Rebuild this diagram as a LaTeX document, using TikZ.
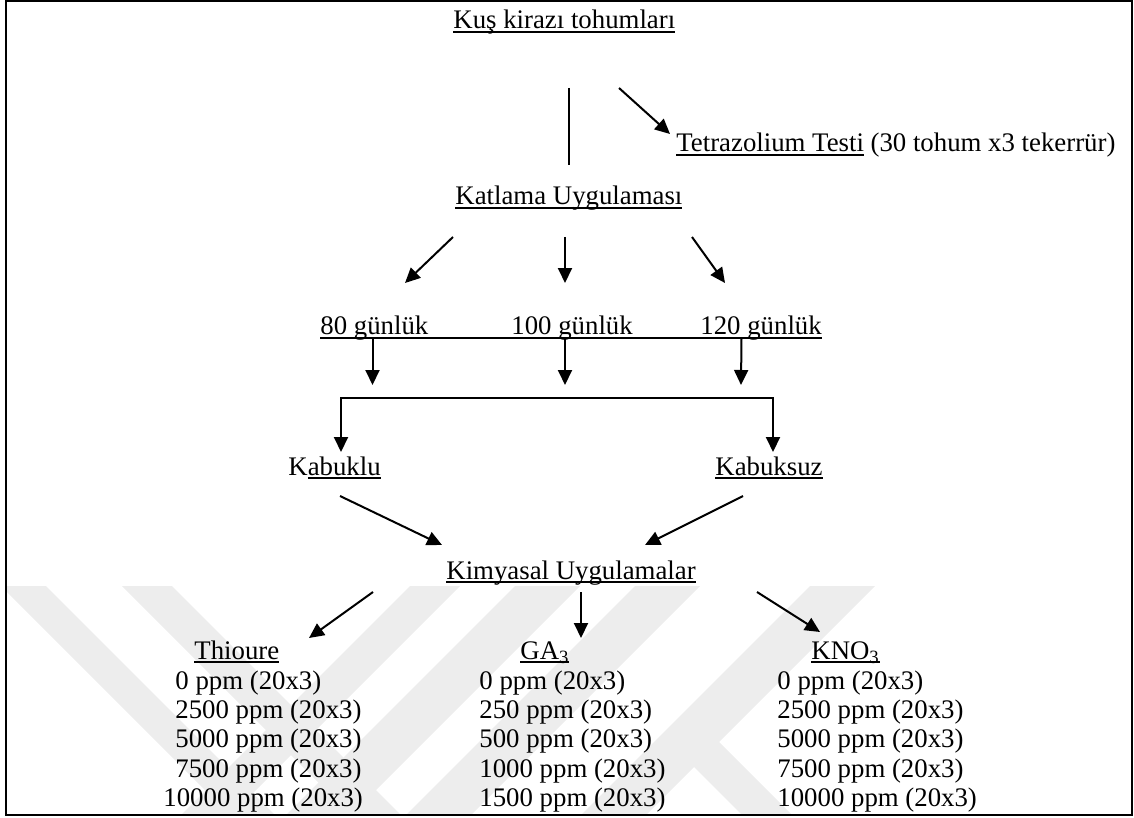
\documentclass[tikz,border=0pt]{standalone}
\usepackage{fontspec}
\setmainfont{Liberation Serif}
\usetikzlibrary{arrows.meta,calc}

\newsavebox{\ulbox}
\newcommand{\ulin}[1]{\sbox{\ulbox}{#1}\rlap{\rule[-1.8pt]{\wd\ulbox}{0.9pt}}\usebox{\ulbox}}

\tikzset{
  lbl/.style={inner sep=0pt, anchor=base west, font=\fontsize{13.4}{15}\selectfont},
  lnk/.style={line width=1pt},
  arr/.style={lnk, -{Triangle[length=7.5pt,width=7pt]}},
  wm/.style={fill=black!7},
}

\begin{document}
\begin{tikzpicture}[x=0.5pt,y=-0.5pt]
        \useasboundingbox (0,0) rectangle (1134,818);

        % watermark
        \begin{scope}
          \clip (6,586) rectangle (1132,815);
          \fill[wm] (1,586) -- (46,586) -- (275,815) -- (230,815) -- cycle;
          \fill[wm] (122,586) -- (172,586) -- (401,815) -- (351,815) -- cycle;
          \fill[wm] (410,586) -- (460,586) -- (231,815) -- (181,815) -- cycle;
          \fill[wm] (515,586) -- (580,586) -- (351,815) -- (286,815) -- cycle;
          \fill[wm] (635,586) -- (700,586) -- (471,815) -- (406,815) -- cycle;
          \fill[wm] (810,586) -- (875,586) -- (646,815) -- (581,815) -- cycle;
          \fill[wm] (662,735) -- (712,735) -- (792,815) -- (742,815) -- cycle;
        \end{scope}

        \draw[line width=1.25pt] (6,1) rectangle (1132,815);

        \node[lbl] (kus) at (453,29) {\ulin{Kuş kirazı tohumları}};
        \node[lbl] (tetra) at (676,152) {\ulin{Tetrazolium Testi} (30 tohum x3 tekerrür)};
        \node[lbl] (katlama) at (455,205) {\ulin{Katlama Uygulaması}};

        \node[lbl] (g80) at (320,334) {80 günlük};
        \node[lbl] (g100) at (511,334) {100 günlük};
        \node[lbl] (g120) at (700,334) {120 günlük};

        \node[lbl] (kabuklu) at (288,475) {K\ulin{abuklu}};
        \node[lbl] (kabuksuz) at (715,475) {\ulin{Kabuksuz}};
        \node[lbl] (kimya) at (446,579) {\ulin{Kimyasal Uygulamalar}};

        \node[lbl] (thiou) at (194,659) {\ulin{Thioure}};
        \node[lbl] (ga) at (520,659) {\ulin{GA\textsubscript{3}}};
        \node[lbl] (kno) at (811,659) {\ulin{KNO\textsubscript{3}}};

        \node[lbl] (t1) at (175,689) {0 ppm (20x3)};
        \node[lbl] (t2) at (175,718) {2500 ppm (20x3)};
        \node[lbl] (t3) at (175,747) {5000 ppm (20x3)};
        \node[lbl] (t4) at (175,777) {7500 ppm (20x3)};
        \node[lbl] (t5) at (163,806) {10000 ppm (20x3)};

        \node[lbl] (ga1) at (479,689) {0 ppm (20x3)};
        \node[lbl] (ga2) at (479,718) {250 ppm (20x3)};
        \node[lbl] (ga3) at (479,747) {500 ppm (20x3)};
        \node[lbl] (ga4) at (479,777) {1000 ppm (20x3)};
        \node[lbl] (ga5) at (479,806) {1500 ppm (20x3)};

        \node[lbl] (k1) at (777,689) {0 ppm (20x3)};
        \node[lbl] (k2) at (777,718) {2500 ppm (20x3)};
        \node[lbl] (k3) at (777,747) {5000 ppm (20x3)};
        \node[lbl] (k4) at (777,777) {7500 ppm (20x3)};
        \node[lbl] (k5) at (777,806) {10000 ppm (20x3)};

        \coordinate (brL) at (341,398);
        \coordinate (brR) at (773,398);

        \draw[lnk] ($(kus.base west)+(116,59)$) -- ($(katlama.base west)+(114,-40)$);
        \draw[arr] ($(kus.base west)+(166,59)$) -- ($(tetra.base west)+(-6,-18)$);

        \draw[arr] ($(katlama.base west)+(-2,32)$) -- ($(g80.base west)+(85,-51)$);
        \draw[arr] ($(katlama.base west)+(110,32)$) -- ($(g100.base west)+(54,-51)$);
        \draw[arr] ($(katlama.base west)+(237,32)$) -- ($(g120.base west)+(25,-51)$);

        \draw[lnk] ($(g80.base west)+(0,4)$) -- ($(g120.base east)+(0,4)$);
        \draw[arr] ($(g80.base west)+(52.5,4)$) -- ($(brL)+(31.5,-13)$);
        \draw[arr] ($(g100.base west)+(54,4)$) -- ($(brL)+(224,-13)$);
        \draw[arr] ($(g120.base west)+(41.5,4)$) -- ($(brR)+(-32,-13)$);

        \draw[lnk, {Triangle[length=7.5pt,width=7pt]}-{Triangle[length=7.5pt,width=7pt]}]
          ($(kabuklu.base west)+(53,-23)$) -- (brL) -- (brR) -- ($(kabuksuz.base west)+(58,-23)$);

        \draw[arr] ($(kabuklu.base west)+(52,21)$) -- ($(kimya.base west)+(-4,-34)$);
        \draw[arr] ($(kabuksuz.base west)+(28,21)$) -- ($(kimya.base west)+(199,-34)$);

        \draw[arr] ($(kimya.base west)+(-73,13)$) -- ($(thiou.base west)+(115,-21)$);
        \draw[arr] ($(kimya.base west)+(135,13)$) -- ($(ga.base west)+(61,-21)$);
        \draw[arr] ($(kimya.base west)+(311,13)$) -- ($(kno.base west)+(9,-27)$);
      \end{tikzpicture}
\end{document}
